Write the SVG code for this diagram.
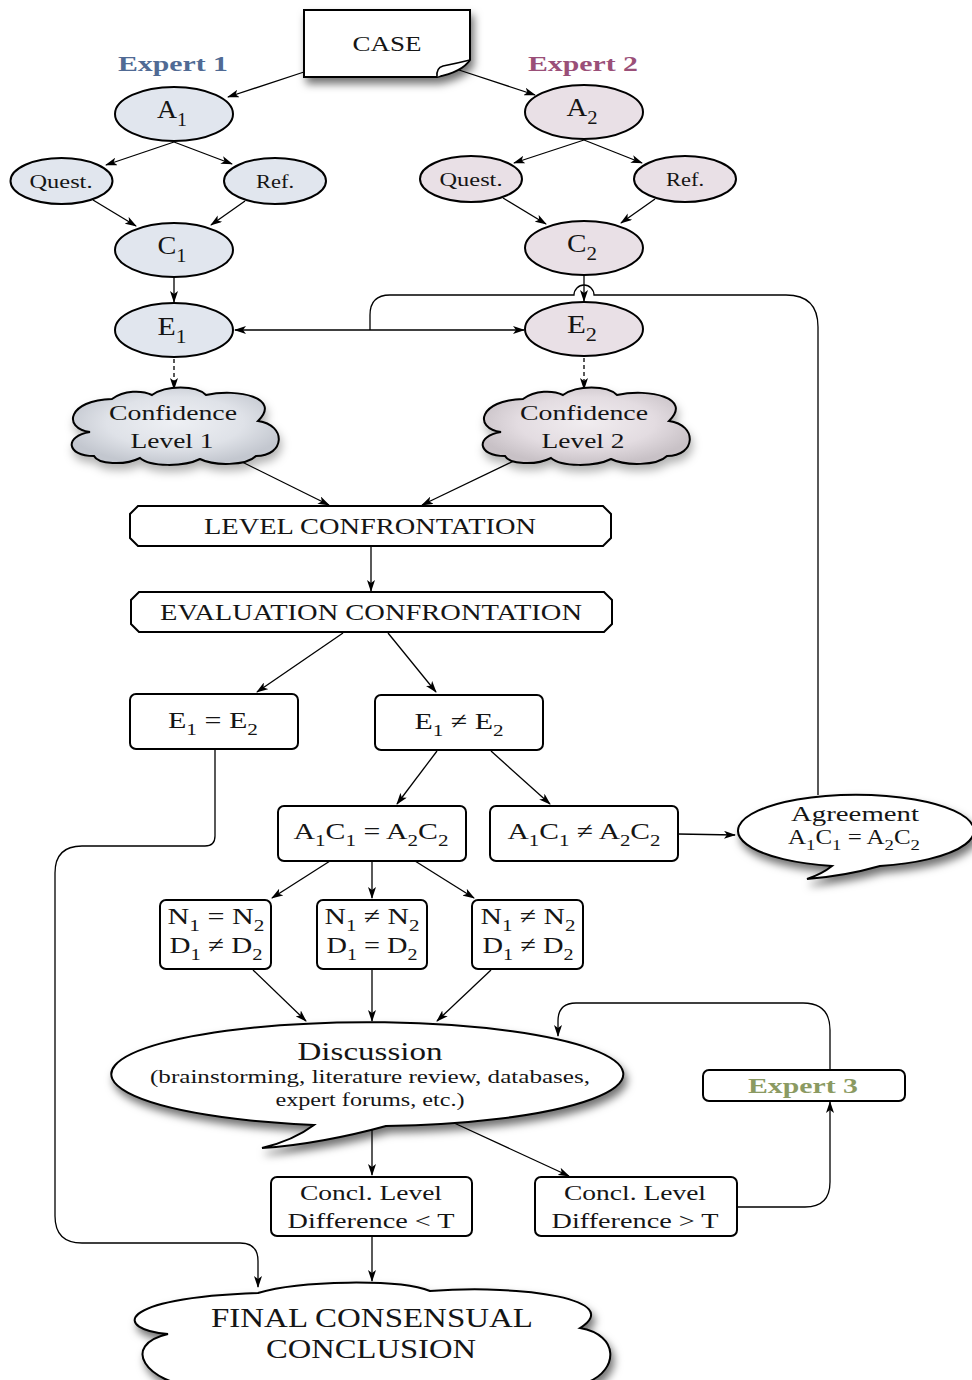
<svg xmlns="http://www.w3.org/2000/svg" width="972" height="1380" viewBox="0 0 972 1380">
  <defs>
    <style>
      .t { font-family: "Liberation Serif", "Times New Roman", serif; fill: #151515; text-anchor: middle; }
      .b { font-weight: bold; }
      .node { stroke: #000; stroke-width: 2; fill: #fff; }
      .e1 { fill: #e1e6ee; }
      .e2 { fill: #e9e0e6; }
      .conn { stroke: #000; stroke-width: 1.3; fill: none; marker-end: url(#arr); }
      .plain { stroke: #000; stroke-width: 1.3; fill: none; }
      .dash { stroke-dasharray: 4 3; }
    </style>
    <marker id="arr" viewBox="0 0 12 8" refX="11" refY="4" markerWidth="12" markerHeight="8" markerUnits="userSpaceOnUse" orient="auto-start-reverse">
      <path d="M0,0 L12,4 L0,8 L3,4 Z" fill="#000"/>
    </marker>
    <filter id="shadow" x="-20%" y="-30%" width="150%" height="180%">
      <feDropShadow dx="3" dy="6" stdDeviation="4" flood-color="#000" flood-opacity="0.55"/>
    </filter>
    <filter id="softshadow" x="-20%" y="-30%" width="150%" height="180%">
      <feDropShadow dx="2" dy="6" stdDeviation="5" flood-color="#000" flood-opacity="0.3"/>
    </filter>
    <radialGradient id="cloudBlue" cx="50%" cy="45%" r="55%">
      <stop offset="0" stop-color="#eef0f4"/>
      <stop offset="0.6" stop-color="#dfe2e8"/>
      <stop offset="1" stop-color="#c3c7cf"/>
    </radialGradient>
    <radialGradient id="cloudPink" cx="50%" cy="45%" r="55%">
      <stop offset="0" stop-color="#f1edf0"/>
      <stop offset="0.6" stop-color="#e3dce1"/>
      <stop offset="1" stop-color="#c8c1c6"/>
    </radialGradient>
    <!-- cloud outline used by both confidence-level nodes -->
    <path id="cloudShape" d="M90,432 C62,428 68,400 112,399 C124,390 142,390 152,395 C166,385 196,385 206,395 C238,388 282,398 258,421 C287,425 285,456 256,456 C246,466 214,466 200,459 C184,467 150,467 140,458 C124,466 98,464 94,456 C66,456 64,436 90,432 Z"/>
  </defs>

  <rect width="972" height="1380" fill="#fff"/>

  <!-- connectors -->
  <g id="connectors">
    <path class="conn" d="M304,72 L228,97"/>
    <path class="conn" d="M459,70 L535,95"/>
    <path class="conn" d="M174,142 L106,165"/>
    <path class="conn" d="M174,142 L232,164"/>
    <path class="conn" d="M93,200 L136,226"/>
    <path class="conn" d="M245,201 L211,225"/>
    <path class="conn" d="M584,140 L514,163"/>
    <path class="conn" d="M584,140 L642,163"/>
    <path class="conn" d="M503,198 L546,224"/>
    <path class="conn" d="M655,199 L621,223"/>
    <path class="conn" d="M174,277 L174,302"/>
    <path class="conn" d="M584,276 L584,301"/>
    <!-- feedback from agreement, hopping over the C2 -> E2 line -->
    <path class="plain" d="M818,795 L818,327 Q818,295 786,295 L594,295 A10,10 0 0 0 574,295 L390,295 Q370,295 370,315 L370,330"/>
    <path class="conn" d="M235,330 L524,330" marker-start="url(#arr)"/>
    <path class="conn dash" d="M174,359 L174,389"/>
    <path class="conn dash" d="M584,358 L584,389"/>
    <path class="conn" d="M230,456 L329,505"/>
    <path class="conn" d="M518,459 L422,505"/>
    <path class="conn" d="M371,546 L371,591"/>
    <path class="conn" d="M343,633 L257,692"/>
    <path class="conn" d="M388,633 L436,692"/>
    <path class="conn" d="M437,751 L397,804"/>
    <path class="conn" d="M491,751 L550,804"/>
    <path class="conn" d="M678,834 L735,835"/>
    <path class="conn" d="M330,861 L272,898"/>
    <path class="conn" d="M372,861 L372,898"/>
    <path class="conn" d="M415,861 L474,898"/>
    <path class="conn" d="M253,970 L306,1021"/>
    <path class="conn" d="M372,970 L372,1021"/>
    <path class="conn" d="M491,970 L437,1021"/>
    <path class="conn" d="M830,1070 L830,1030 Q830,1003 803,1003 L576,1003 Q558,1003 558,1021 L558,1036"/>
    <path class="conn" d="M737,1207 L805,1207 Q830,1207 830,1182 L830,1102"/>
    <path class="conn" d="M372,1128 L372,1175"/>
    <path class="conn" d="M452,1122 L569,1176"/>
    <path class="conn" d="M372,1237 L372,1281"/>
    <path class="conn" d="M215,750 L215,836 Q215,846 205,846 L82,846 Q55,846 55,873 L55,1216 Q55,1243 82,1243 L240,1243 Q258,1243 258,1261 L258,1287"/>
  </g>

  <!-- case note -->
  <g id="case">
    <path d="M304,10 L470,10 L470,60 Q462,72 437,77 L304,77 Z" fill="#fff" stroke="#000" stroke-width="2" filter="url(#shadow)"/>
    <path d="M437,77 Q436,68 443,66 Q458,63 470,60" fill="#fff" stroke="#000" stroke-width="1.6"/>
    <text class="t" x="387" y="51" font-size="22" textLength="69" lengthAdjust="spacingAndGlyphs">CASE</text>
  </g>

  <g id="expert1-label"><text class="t b" x="173" y="71" font-size="22" style="fill:#506a94" textLength="110" lengthAdjust="spacingAndGlyphs">Expert 1</text></g>
  <g id="expert2-label"><text class="t b" x="583" y="71" font-size="22" style="fill:#9a4f78" textLength="110" lengthAdjust="spacingAndGlyphs">Expert 2</text></g>

  <!-- expert 1 branch -->
  <g id="a1"><ellipse class="node e1" cx="174" cy="114" rx="59" ry="27"/>
    <text class="t" x="172" y="118" font-size="25" textLength="30" lengthAdjust="spacingAndGlyphs">A<tspan font-size="18" dy="8">1</tspan></text></g>
  <g id="quest1"><ellipse class="node e1" cx="61.5" cy="181" rx="51" ry="23"/>
    <text class="t" x="61" y="188" font-size="18" textLength="63" lengthAdjust="spacingAndGlyphs">Quest.</text></g>
  <g id="ref1"><ellipse class="node e1" cx="275" cy="181" rx="51" ry="23"/>
    <text class="t" x="275" y="188" font-size="18" textLength="38" lengthAdjust="spacingAndGlyphs">Ref.</text></g>
  <g id="c1"><ellipse class="node e1" cx="174" cy="250" rx="59" ry="27"/>
    <text class="t" x="172" y="254" font-size="25" textLength="29" lengthAdjust="spacingAndGlyphs">C<tspan font-size="18" dy="8">1</tspan></text></g>
  <g id="e1"><ellipse class="node e1" cx="174" cy="330" rx="59" ry="27"/>
    <text class="t" x="172" y="335" font-size="25" textLength="29" lengthAdjust="spacingAndGlyphs">E<tspan font-size="18" dy="8">1</tspan></text></g>

  <!-- expert 2 branch -->
  <g id="a2"><ellipse class="node e2" cx="584" cy="112" rx="59" ry="27"/>
    <text class="t" x="582" y="116" font-size="25" textLength="31" lengthAdjust="spacingAndGlyphs">A<tspan font-size="18" dy="8">2</tspan></text></g>
  <g id="quest2"><ellipse class="node e2" cx="471" cy="179" rx="51" ry="23"/>
    <text class="t" x="471" y="186" font-size="18" textLength="63" lengthAdjust="spacingAndGlyphs">Quest.</text></g>
  <g id="ref2"><ellipse class="node e2" cx="685" cy="179" rx="51" ry="23"/>
    <text class="t" x="685" y="186" font-size="18" textLength="38" lengthAdjust="spacingAndGlyphs">Ref.</text></g>
  <g id="c2"><ellipse class="node e2" cx="584" cy="248" rx="59" ry="27"/>
    <text class="t" x="582" y="252" font-size="25" textLength="30" lengthAdjust="spacingAndGlyphs">C<tspan font-size="18" dy="8">2</tspan></text></g>
  <g id="e2"><ellipse class="node e2" cx="584" cy="329" rx="59" ry="27"/>
    <text class="t" x="582" y="333" font-size="25" textLength="30" lengthAdjust="spacingAndGlyphs">E<tspan font-size="18" dy="8">2</tspan></text></g>

  <!-- confidence clouds -->
  <g id="confidence1">
    <use href="#cloudShape" fill="url(#cloudBlue)" stroke="#000" stroke-width="2" filter="url(#softshadow)"/>
    <text class="t" x="173" y="420" font-size="22" textLength="128" lengthAdjust="spacingAndGlyphs">Confidence</text>
    <text class="t" x="172" y="448" font-size="22" textLength="83" lengthAdjust="spacingAndGlyphs">Level 1</text>
  </g>
  <g id="confidence2">
    <use href="#cloudShape" transform="translate(411,0)" fill="url(#cloudPink)" stroke="#000" stroke-width="2" filter="url(#softshadow)"/>
    <text class="t" x="584" y="420" font-size="22" textLength="128" lengthAdjust="spacingAndGlyphs">Confidence</text>
    <text class="t" x="583" y="448" font-size="22" textLength="83" lengthAdjust="spacingAndGlyphs">Level 2</text>
  </g>

  <!-- confrontation stages -->
  <g id="level-confrontation">
    <path class="node" d="M138,506 L603,506 L611,514 L611,538 L603,546 L138,546 L130,538 L130,514 Z"/>
    <text class="t" x="370" y="534" font-size="24" textLength="332" lengthAdjust="spacingAndGlyphs">LEVEL CONFRONTATION</text>
  </g>
  <g id="evaluation-confrontation">
    <path class="node" d="M139,592 L604,592 L612,600 L612,624 L604,632 L139,632 L131,624 L131,600 Z"/>
    <text class="t" x="371" y="620" font-size="24" textLength="422" lengthAdjust="spacingAndGlyphs">EVALUATION CONFRONTATION</text>
  </g>

  <g id="eval-equal">
    <rect class="node" x="130" y="694" width="168" height="55" rx="6"/>
    <text class="t" x="213" y="728" font-size="24" textLength="90" lengthAdjust="spacingAndGlyphs">E<tspan font-size="17" dy="7">1</tspan><tspan dy="-7"> = E</tspan><tspan font-size="17" dy="7">2</tspan></text>
  </g>
  <g id="eval-diff">
    <rect class="node" x="375" y="695" width="168" height="55" rx="6"/>
    <text class="t" x="459" y="729" font-size="24" textLength="89" lengthAdjust="spacingAndGlyphs">E<tspan font-size="17" dy="7">1</tspan><tspan dy="-7"> ≠ E</tspan><tspan font-size="17" dy="7">2</tspan></text>
  </g>

  <g id="ac-equal">
    <rect class="node" x="278" y="806" width="188" height="55" rx="6"/>
    <text class="t" x="371" y="839" font-size="24" textLength="155" lengthAdjust="spacingAndGlyphs">A<tspan font-size="17" dy="7">1</tspan><tspan dy="-7">C</tspan><tspan font-size="17" dy="7">1</tspan><tspan dy="-7"> = A</tspan><tspan font-size="17" dy="7">2</tspan><tspan dy="-7">C</tspan><tspan font-size="17" dy="7">2</tspan></text>
  </g>
  <g id="ac-diff">
    <rect class="node" x="490" y="806" width="188" height="55" rx="6"/>
    <text class="t" x="584" y="839" font-size="24" textLength="153" lengthAdjust="spacingAndGlyphs">A<tspan font-size="17" dy="7">1</tspan><tspan dy="-7">C</tspan><tspan font-size="17" dy="7">1</tspan><tspan dy="-7"> ≠ A</tspan><tspan font-size="17" dy="7">2</tspan><tspan dy="-7">C</tspan><tspan font-size="17" dy="7">2</tspan></text>
  </g>

  <!-- agreement speech bubble -->
  <g id="agreement">
    <path class="node" d="M880,866 A118,36 0 1 0 832,866 Q822,874 807,879 Q845,876 880,866 Z" filter="url(#shadow)"/>
    <text class="t" x="855" y="821" font-size="21" textLength="128" lengthAdjust="spacingAndGlyphs">Agreement</text>
    <text class="t" x="854" y="844" font-size="20" textLength="132" lengthAdjust="spacingAndGlyphs">A<tspan font-size="15" dy="6">1</tspan><tspan dy="-6">C</tspan><tspan font-size="15" dy="6">1</tspan><tspan dy="-6"> = A</tspan><tspan font-size="15" dy="6">2</tspan><tspan dy="-6">C</tspan><tspan font-size="15" dy="6">2</tspan></text>
  </g>

  <!-- name / description comparison cases -->
  <g id="nd-1">
    <rect class="node" x="160" y="900" width="111" height="69" rx="6"/>
    <text class="t" x="216" y="924" font-size="24" textLength="97" lengthAdjust="spacingAndGlyphs">N<tspan font-size="17" dy="7">1</tspan><tspan dy="-7"> = N</tspan><tspan font-size="17" dy="7">2</tspan></text>
    <text class="t" x="216" y="953" font-size="24" textLength="93" lengthAdjust="spacingAndGlyphs">D<tspan font-size="17" dy="7">1</tspan><tspan dy="-7"> ≠ D</tspan><tspan font-size="17" dy="7">2</tspan></text>
  </g>
  <g id="nd-2">
    <rect class="node" x="317" y="900" width="110" height="69" rx="6"/>
    <text class="t" x="372" y="924" font-size="24" textLength="95" lengthAdjust="spacingAndGlyphs">N<tspan font-size="17" dy="7">1</tspan><tspan dy="-7"> ≠ N</tspan><tspan font-size="17" dy="7">2</tspan></text>
    <text class="t" x="372" y="953" font-size="24" textLength="91" lengthAdjust="spacingAndGlyphs">D<tspan font-size="17" dy="7">1</tspan><tspan dy="-7"> = D</tspan><tspan font-size="17" dy="7">2</tspan></text>
  </g>
  <g id="nd-3">
    <rect class="node" x="472" y="900" width="111" height="69" rx="6"/>
    <text class="t" x="528" y="924" font-size="24" textLength="95" lengthAdjust="spacingAndGlyphs">N<tspan font-size="17" dy="7">1</tspan><tspan dy="-7"> ≠ N</tspan><tspan font-size="17" dy="7">2</tspan></text>
    <text class="t" x="528" y="953" font-size="24" textLength="91" lengthAdjust="spacingAndGlyphs">D<tspan font-size="17" dy="7">1</tspan><tspan dy="-7"> ≠ D</tspan><tspan font-size="17" dy="7">2</tspan></text>
  </g>

  <!-- discussion speech bubble -->
  <g id="discussion">
    <path class="node" d="M386,1126 A256,52 0 1 0 314,1125 C302,1134 287,1142 262,1148 C300,1146 350,1136 386,1126 Z" filter="url(#shadow)"/>
    <text class="t" x="370" y="1060" font-size="26" textLength="145" lengthAdjust="spacingAndGlyphs">Discussion</text>
    <text class="t" x="370" y="1083" font-size="18" textLength="440" lengthAdjust="spacingAndGlyphs">(brainstorming, literature review, databases,</text>
    <text class="t" x="370" y="1106" font-size="18" textLength="189" lengthAdjust="spacingAndGlyphs">expert forums, etc.)</text>
  </g>

  <g id="expert3">
    <rect class="node" x="703" y="1070" width="202" height="31" rx="6"/>
    <text class="t b" x="803" y="1093" font-size="22" style="fill:#8b9a62" textLength="110" lengthAdjust="spacingAndGlyphs">Expert 3</text>
  </g>

  <g id="concl-below">
    <rect class="node" x="271" y="1177" width="201" height="59" rx="6"/>
    <text class="t" x="371" y="1200" font-size="22" textLength="142" lengthAdjust="spacingAndGlyphs">Concl. Level</text>
    <text class="t" x="371" y="1228" font-size="22" textLength="167" lengthAdjust="spacingAndGlyphs">Difference &lt; T</text>
  </g>
  <g id="concl-above">
    <rect class="node" x="535" y="1177" width="202" height="59" rx="6"/>
    <text class="t" x="635" y="1200" font-size="22" textLength="142" lengthAdjust="spacingAndGlyphs">Concl. Level</text>
    <text class="t" x="635" y="1228" font-size="22" textLength="167" lengthAdjust="spacingAndGlyphs">Difference &gt; T</text>
  </g>

  <!-- final conclusion cloud -->
  <g id="final">
    <path class="node" d="M168,1334 C115,1330 112,1298 258,1293 C300,1280 400,1279 430,1291 C525,1284 625,1300 580,1328 C620,1335 618,1370 588,1382 C520,1397 300,1394 200,1388 C145,1383 120,1345 168,1334 Z" filter="url(#shadow)"/>
    <text class="t" x="372" y="1327" font-size="27" textLength="322" lengthAdjust="spacingAndGlyphs">FINAL CONSENSUAL</text>
    <text class="t" x="371" y="1358" font-size="27" textLength="210" lengthAdjust="spacingAndGlyphs">CONCLUSION</text>
  </g>
</svg>
